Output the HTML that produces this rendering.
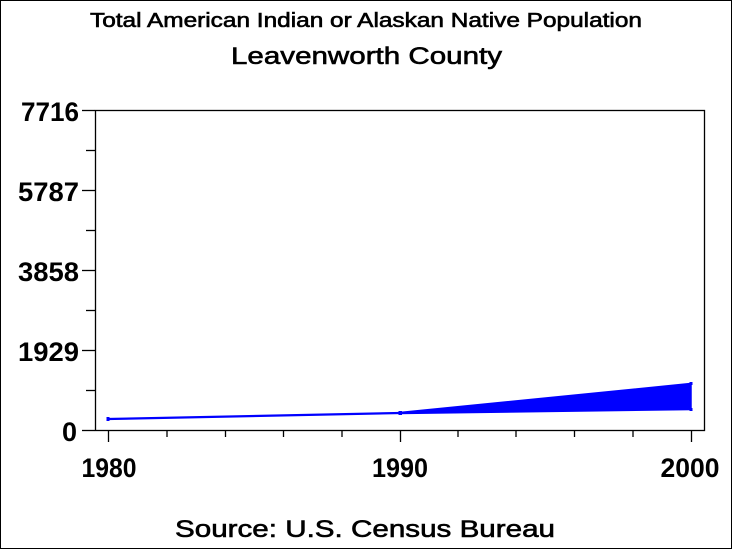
<!DOCTYPE html>
<html>
<head>
<meta charset="utf-8">
<style>
html,body{margin:0;padding:0;background:#fff;}
svg{display:block;}
text{font-family:"Liberation Sans",Arial,sans-serif;fill:#000;}
.t{stroke:#000;stroke-width:0.6;}
</style>
</head>
<body>
<svg width="733" height="550" viewBox="0 0 733 550" xmlns="http://www.w3.org/2000/svg">
<rect x="0.5" y="0.5" width="731" height="548" fill="#fff" stroke="#000" stroke-width="1"/>
<text class="t" x="90" y="27" font-size="20" textLength="552" lengthAdjust="spacingAndGlyphs">Total American Indian or Alaskan Native Population</text>
<text class="t" x="231" y="64" font-size="24" textLength="271" lengthAdjust="spacingAndGlyphs">Leavenworth County</text>
<text class="t" x="175" y="537" font-size="24" textLength="380" lengthAdjust="spacingAndGlyphs">Source: U.S. Census Bureau</text>

<!-- plot frame -->
<rect x="95.5" y="110.5" width="609" height="320" fill="none" stroke="#000" stroke-width="1.3"/>

<!-- y ticks -->
<g stroke="#000" stroke-width="1.3">
<line x1="82" y1="110.5" x2="95" y2="110.5"/>
<line x1="82" y1="190.5" x2="95" y2="190.5"/>
<line x1="82" y1="270.5" x2="95" y2="270.5"/>
<line x1="82" y1="350.5" x2="95" y2="350.5"/>
<line x1="82" y1="430.5" x2="95" y2="430.5"/>
<line x1="86" y1="150.5" x2="95" y2="150.5"/>
<line x1="86" y1="230.5" x2="95" y2="230.5"/>
<line x1="86" y1="310.5" x2="95" y2="310.5"/>
<line x1="86" y1="390.5" x2="95" y2="390.5"/>
<!-- x ticks -->
<line x1="108.5" y1="430" x2="108.5" y2="442"/>
<line x1="400.5" y1="430" x2="400.5" y2="442"/>
<line x1="691.5" y1="430" x2="691.5" y2="442"/>
<line x1="167" y1="430" x2="167" y2="437"/>
<line x1="225.5" y1="430" x2="225.5" y2="437"/>
<line x1="283.5" y1="430" x2="283.5" y2="437"/>
<line x1="342" y1="430" x2="342" y2="437"/>
<line x1="458" y1="430" x2="458" y2="437"/>
<line x1="516" y1="430" x2="516" y2="437"/>
<line x1="574.5" y1="430" x2="574.5" y2="437"/>
<line x1="633" y1="430" x2="633" y2="437"/>
</g>

<g font-size="27" font-weight="bold" text-anchor="end">
<text x="79" y="121" textLength="58" lengthAdjust="spacingAndGlyphs">7716</text>
<text x="79" y="201" textLength="61" lengthAdjust="spacingAndGlyphs">5787</text>
<text x="79" y="281" textLength="61" lengthAdjust="spacingAndGlyphs">3858</text>
<text x="79" y="361" textLength="61" lengthAdjust="spacingAndGlyphs">1929</text>
<text x="77" y="441">0</text>
</g>
<g font-size="27" font-weight="bold" text-anchor="middle">
<text x="109" y="477" textLength="55" lengthAdjust="spacingAndGlyphs">1980</text>
<text x="400" y="477" textLength="56" lengthAdjust="spacingAndGlyphs">1990</text>
<text x="690" y="477" textLength="59" lengthAdjust="spacingAndGlyphs">2000</text>
</g>

<!-- series -->
<line x1="108" y1="419" x2="400" y2="413" stroke="#0000ff" stroke-width="2.2"/>
<polygon points="400,412.5 691,383.5 691,409.5 400,413.5" fill="#0000ff" stroke="#0000ff" stroke-width="1.5"/>
<rect x="106.5" y="417" width="3" height="4" fill="#0000ff"/>
<rect x="398.5" y="411" width="3.5" height="4" fill="#0000ff"/>
<rect x="689.5" y="382" width="3" height="3" fill="#0000ff"/>
<rect x="689.5" y="408" width="3" height="3" fill="#0000ff"/>
</svg>
</body>
</html>
